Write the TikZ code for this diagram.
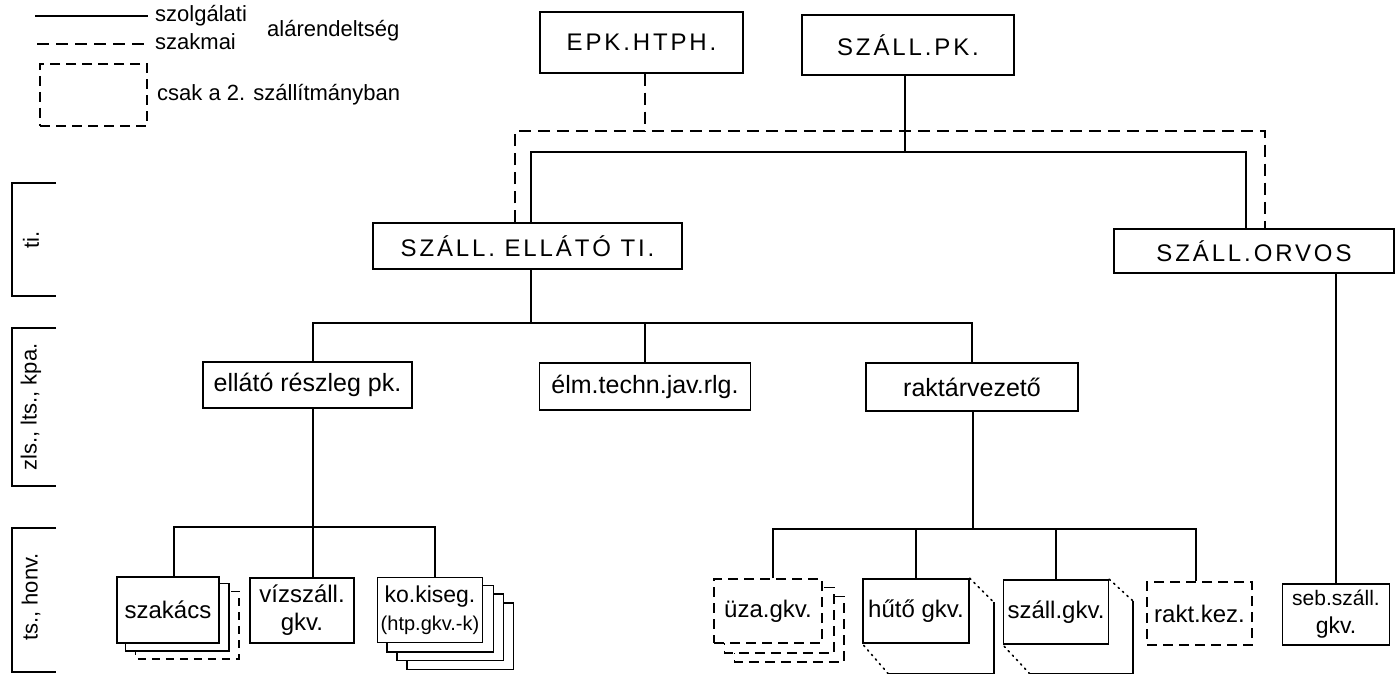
\documentclass[tikz,border=0pt]{standalone}
\usepackage{fontspec}
\setmainfont{Liberation Sans}
\newfontfamily\capsfnt[LetterSpace=12]{Liberation Sans}
\usepackage{tikz}
\usetikzlibrary{positioning,backgrounds}

\tikzset{
  box/.style={draw, line width=1.5pt, fill=white, inner sep=0pt, align=center},
  dbox/.style={box, dash pattern=on 10pt off 6pt},
  chief/.style={box, font=\fontsize{24}{28}\capsfnt},
  unit/.style={box, font=\fontsize{25}{28}\selectfont},
  conn/.style={line width=2.2pt},
  prof/.style={line width=2.2pt, dash pattern=on 12pt off 7pt},
  sheet/.style={line width=1.6pt},
  sheetbox/.style={draw, line width=1.5pt, fill=white},
  dots/.style={line width=1.6pt, dash pattern=on 1.5pt off 4.5pt, line cap=round},
  legtext/.style={font=\fontsize{22}{25}\selectfont, inner sep=0pt},
  level/.style={rotate=90, font=\fontsize{22}{25}\selectfont, inner sep=0pt},
}

\begin{document}
\begin{tikzpicture}[x=1pt, y=-1pt, font=\fontsize{24}{28}\selectfont]
  \useasboundingbox (0,0) rectangle (1398,674);

  % legend
  \node[legtext, anchor=base west] (szolg) at (155,22) {szolgálati};
  \node[legtext, anchor=base west] (szakm) at (155,50) {szakmai};
  \node[legtext, anchor=base west] (alar) at (267,37) {alárendeltség};
  \coordinate (legA) at (35,16);
  \coordinate (legB) at (37,44);
  \draw[conn] (legA) -- ([xshift=-7pt]legA -| szolg.west);
  \draw[prof] (legB) -- ([xshift=-7pt]legB -| szakm.west);
  \node[dbox, minimum width=107pt, minimum height=62pt] (legbox) at (93.5,95) {};
  \node[legtext, anchor=west] (csak) at (157,95) {csak a 2. szállítmányban};

  % levels on the left
  \draw[sheet] (56,183) -| (12,296) -- (56,296);
  \draw[sheet] (56,328) -| (12,486) -- (56,486);
  \draw[sheet] (56,528) -| (12,672) -- (56,672);
  \node[level] (lti) at (31,240) {ti.};
  \node[level] (lzls) at (31,407) {zls., lts., kpa.};
  \node[level] (lts) at (31,597) {ts., honv.};

  % top
  \node[chief, minimum width=203pt, minimum height=61pt] (epk) at (641.5,42.5) {EPK.HTPH.};
  \node[chief, minimum width=212pt, minimum height=60pt] (sallpk) at (908,45) {SZÁLL.PK.};
  \node[chief, minimum width=309pt, minimum height=46pt] (ellato) at (527.5,246) {SZÁLL. ELLÁTÓ TI.};
  \node[chief, minimum width=280pt, minimum height=44pt] (orvos) at (1254,251) {SZÁLL.ORVOS};

  % middle
  \node[unit, minimum width=209pt, minimum height=46pt] (reszleg) at (307.5,385) {ellátó részleg pk.};
  \node[unit, minimum width=211pt, minimum height=47pt] (elm) at (645,386.5) {élm.techn.jav.rlg.};
  \node[unit, minimum width=212pt, minimum height=48pt] (raktar) at (972,387) {raktárvezető};

  % bottom
  \node[box, minimum width=102pt, minimum height=66pt] (szakacs) at (168,610) {szakács};
  \node[box, minimum width=104pt, minimum height=65pt] (viz) at (302,610.5) {vízszáll.\\gkv.};
  \node[box, minimum width=105pt, minimum height=65pt, font=\fontsize{20}{28}\selectfont] (ko) at (430,610) {{\fontsize{23}{28}\selectfont ko.kiseg.}\\(htp.gkv.-k)};
  \node[dbox, minimum width=108pt, minimum height=64pt] (uza) at (768,611) {üza.gkv.};
  \node[box, minimum width=106pt, minimum height=64pt] (huto) at (916,611) {hűtő gkv.};
  \node[box, minimum width=105pt, minimum height=64pt] (szall) at (1056,612) {száll.gkv.};
  \node[dbox, minimum width=105pt, minimum height=63pt] (raktkez) at (1199.5,613.5) {rakt.kez.};
  \node[box, minimum width=107pt, minimum height=61pt, font=\fontsize{21}{28}\selectfont] (seb) at (1336,614.5) {seb.száll.\\{\fontsize{23}{28}\selectfont gkv.}};

  % pages behind
  \begin{scope}[on background layer]
    \draw[sheetbox, dash pattern=on 8pt off 6pt] ([shift={(19,15)}]szakacs.north west) rectangle ([shift={(19,15)}]szakacs.south east);
    \draw[sheetbox] ([shift={(9,7)}]szakacs.north west) rectangle ([shift={(9,7)}]szakacs.south east);
    \foreach \d in {3,2,1}
      \draw[sheetbox] ([shift={({10*\d},{8.7*\d})}]ko.north west) rectangle ([shift={({10*\d},{8.7*\d})}]ko.south east);
    \draw[sheetbox, dash pattern=on 10pt off 6pt] ([shift={(21,18)}]uza.north west) rectangle ([shift={(21,18)}]uza.south east);
    \draw[sheetbox, dash pattern=on 10pt off 6pt] ([shift={(11,9)}]uza.north west) rectangle ([shift={(11,9)}]uza.south east);
  \end{scope}
  \draw[dots] (huto.north east) -- ([shift={(24,24)}]huto.north east) coordinate (hutoTR);
  \draw[sheet] (hutoTR) |- ([shift={(26,30)}]huto.south west) coordinate (hutoBL);
  \draw[dots] (hutoBL) -- (huto.south west);
  \draw[dots] (szall.north east) -- ([shift={(24,22)}]szall.north east) coordinate (szallTR);
  \draw[sheet] (szallTR) |- ([shift={(27,29)}]szall.south west) coordinate (szallBL);
  \draw[dots] (szallBL) -- (szall.south west);

  % service lines
  \coordinate (busA) at (905,152);
  \coordinate (busB) at (645,131);
  \draw[conn] (busA |- sallpk.south) -- (busA);
  \draw[conn] ([xshift=3.5pt]ellato.north) |- (busA) -| ([xshift=-8pt]orvos.north);
  \draw[prof] (busB |- epk.south) -- (busB);
  \draw[prof] ([xshift=-12.5pt]ellato.north) |- (busB) -| ([xshift=11pt]orvos.north);

  \coordinate (busC) at (531,323);
  \draw[conn] (busC |- ellato.south) -- (busC);
  \draw[conn] ([xshift=5.5pt]reszleg.north) |- (busC) -| (raktar.north);
  \draw[conn] (elm.north) -- (elm.north |- busC);

  \coordinate (busD) at (313,527);
  \draw[conn] (busD |- reszleg.south) -- (busD) -- (busD |- viz.north);
  \draw[conn] ([xshift=6pt]szakacs.north) |- (busD) -| ([xshift=5pt]ko.north);

  \coordinate (busE) at (973,529);
  \draw[conn] (busE |- raktar.south) -- (busE);
  \draw[conn] ([xshift=5pt]uza.north) |- (busE) -| ([xshift=-3.5pt]raktkez.north);
  \draw[conn] (huto.north) -- (huto.north |- busE);
  \draw[conn] (szall.north) -- (szall.north |- busE);
  \draw[conn] (orvos.south -| seb.north) -- (seb.north);
\end{tikzpicture}
\end{document}
